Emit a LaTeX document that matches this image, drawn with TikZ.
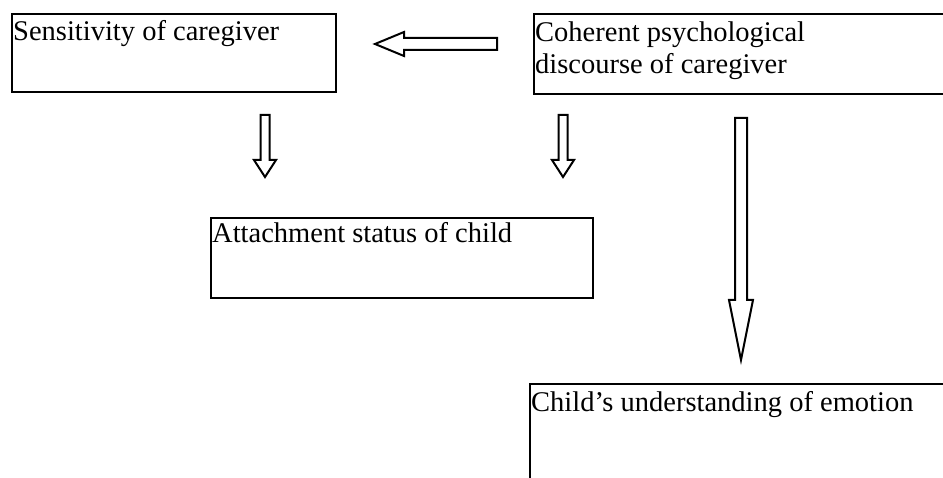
\documentclass[tikz,border=0pt]{standalone}
\usepackage{fontspec}
\setmainfont{Liberation Serif}
\newcommand\dnarrw[6]{% x, top, headback, tip, shafthalf, headhalf
  \draw[blockarrow] ({#1-#5},#2) -- ({#1+#5},#2) -- ({#1+#5},#3) -- ({#1+#6},#3)
    -- (#1,#4) -- ({#1-#6},#3) -- ({#1-#5},#3) -- cycle;}
\begin{document}
\begin{tikzpicture}[x=1pt,y=-1pt,
  box/.style={draw, line width=2.2pt, anchor=north west, inner sep=0pt},
  txt/.style={anchor=base west, inner sep=0pt, font=\fontsize{28.5}{32}\selectfont, align=left},
  blockarrow/.style={draw, line width=2pt, line join=miter}]
\useasboundingbox (0,0) rectangle (943,478);
% boxes
\node[box, minimum width=324pt, minimum height=78pt] (b1) at (11,13) {};
\node[txt] (t1) at (13,41) {Sensitivity of caregiver};
\node[box, minimum width=430pt, minimum height=80pt] (b2) at (533,13) {};
\node[txt] (t2) at (535,42) {Coherent psychological};
\node[txt] (t2b) at (535,74) {discourse of caregiver};
\node[box, minimum width=382pt, minimum height=80pt] (b3) at (210,217) {};
\node[txt] (t3) at (212,243) {Attachment status of child};
\node[box, minimum width=430pt, minimum height=120pt] (b4) at (529,383) {};
\node[txt] (t4) at (531,412) {Child's understanding of emotion};
% left block arrow
\draw[blockarrow] (497,38) -- (404,38) -- (404,32) -- (375,44) -- (404,56) -- (404,50) -- (497,50) -- cycle;
% down block arrows
\dnarrw{265}{115}{160}{177}{4.5}{11}
\dnarrw{563}{115}{160}{177}{4.5}{11}
\dnarrw{741}{118}{300}{360}{6}{12}
\end{tikzpicture}
\end{document}
